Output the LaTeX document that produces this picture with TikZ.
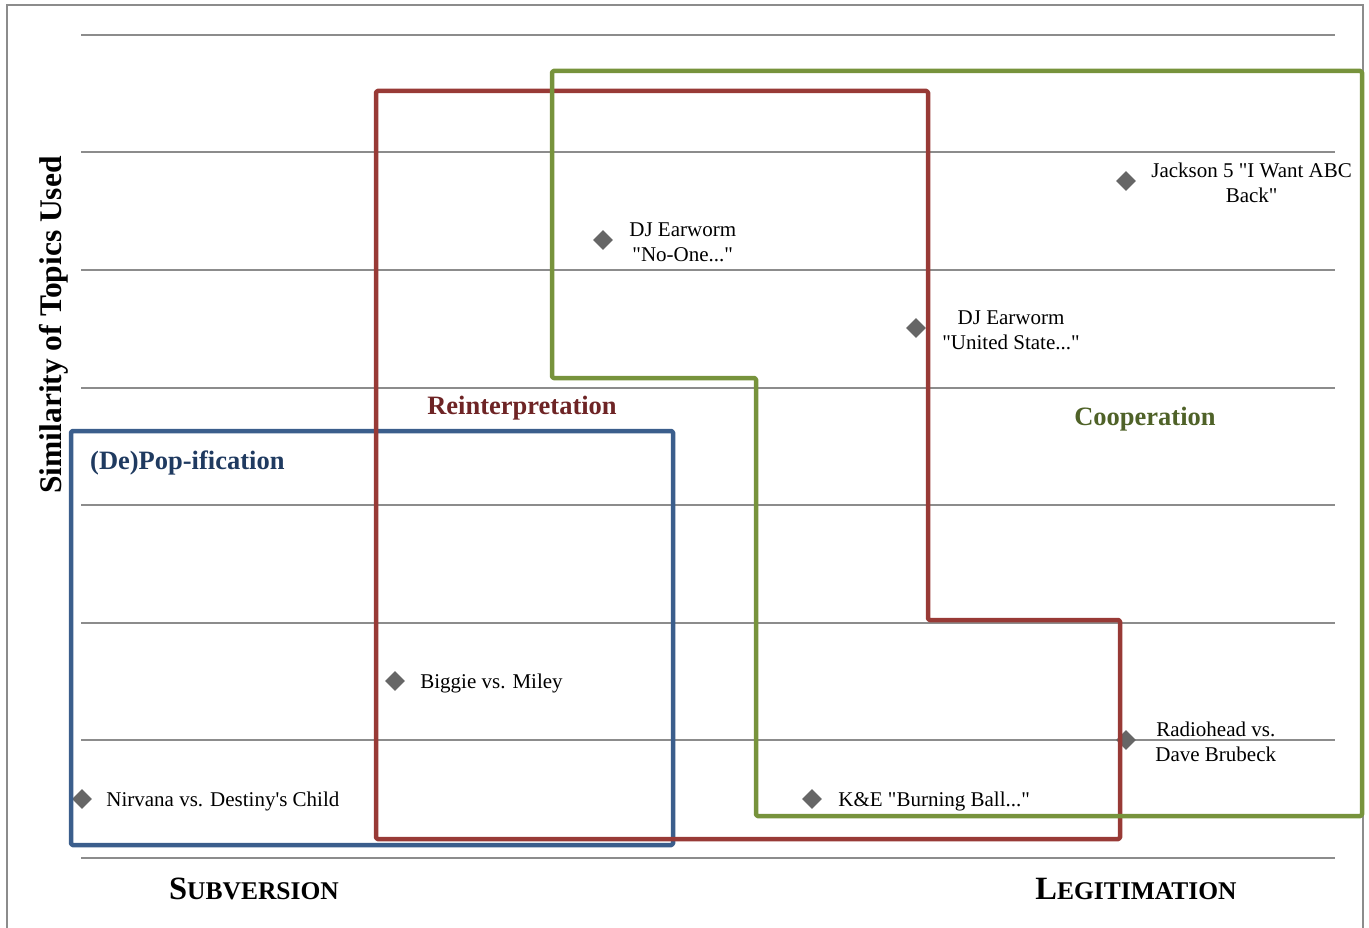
\documentclass[tikz,border=0pt]{standalone}
\usepackage{fontspec}
\setmainfont{Liberation Serif}
\usepackage{tikz}
\usetikzlibrary{positioning,shapes.geometric}

\definecolor{gridgray}{HTML}{8C8C8C}
\definecolor{popblue}{HTML}{3B5E8C}
\definecolor{popbluetext}{HTML}{1F3A60}
\definecolor{reintred}{HTML}{983A36}
\definecolor{reintredtext}{HTML}{6E2425}
\definecolor{coopgreen}{HTML}{77933C}
\definecolor{coopgreentext}{HTML}{4F6228}
\definecolor{markgray}{HTML}{666666}

\newcommand{\fakesc}[2]{#1{\fontsize{25.5}{30}\selectfont #2}}
\newcommand{\dq}{\textquotedbl}

\begin{document}
\begin{tikzpicture}[x=1pt, y=-1pt,
    gridline/.style={gridgray, line width=2pt},
    marker/.style={diamond, fill=markgray, minimum width=20pt, minimum height=20pt, inner sep=0pt},
    song/.style={inner sep=0pt, align=center, yshift=-2pt, font=\fontsize{21}{25}\selectfont},
    zone/.style={line width=4.5pt, line join=round, rounded corners=1.5pt},
    zonelabel/.style={inner sep=0pt, font=\fontsize{26.5}{30}\selectfont\bfseries},
    axislabel/.style={inner sep=0pt, font=\fontsize{32.5}{36}\selectfont\bfseries}]
    \useasboundingbox (0,0) rectangle (1369,928);
    % frame and grid
    \draw[gridgray, line width=2pt] (7,928) -- (7,5) -- (1363,5) -- (1363,928);
    \foreach \y in {35,152.5,270,387.5,505,622.5,740,857.5}
        \draw[gridline] (81,\y) -- (1335,\y);

    % songs
    \node[marker] (nirvana) at (82,799) {};
    \node[marker] (biggie) at (395,681) {};
    \node[marker] (noone) at (603,240) {};
    \node[marker] (united) at (916,328) {};
    \node[marker] (jackson) at (1126,181) {};
    \node[marker] (radiohead) at (1126,740) {};
    \node[marker] (burning) at (812,799) {};

    \node[song, right=14pt of nirvana] (nirvanatext) {Nirvana vs. Destiny\textquotesingle s Child};
    \node[song, right=15pt of biggie] (biggietext) {Biggie vs. Miley};
    \node[song, right=16pt of noone] (noonetext) {DJ Earworm\\\dq No-One...\dq};
    \node[song, right=16pt of united] (unitedtext) {DJ Earworm\\\dq United State...\dq};
    \node[song, right=15pt of jackson] (jacksontext) {Jackson 5 \dq I Want ABC\\Back\dq};
    \node[song, right=19pt of radiohead] (radioheadtext) {Radiohead vs.\\Dave Brubeck};
    \node[song, right=16pt of burning] (burningtext) {K\&E \dq Burning Ball...\dq};

    % zones
    \draw[zone, popblue] (71,431) rectangle (673,845);
    \draw[zone, reintred] (376,91) -- (928,91) -- (928,620) -- (1120,620)
        -- (1120,839) -- (376,839) -- cycle;
    \draw[zone, coopgreen] (552,71) -- (1362,71) -- (1362,816) -- (756,816)
        -- (756,378) -- (552,378) -- cycle;

    \node[zonelabel, popbluetext, anchor=west] (poplabel) at (90,463) {(De)Pop-ification};
    \node[zonelabel, reintredtext] (reintlabel) at (522,408) {Reinterpretation};
    \node[zonelabel, coopgreentext] (cooplabel) at (1145,419) {Cooperation};

    % axes
    \node[axislabel, rotate=90, font=\fontsize{31.5}{36}\selectfont\bfseries] (ylabel) at (54,325) {Similarity of Topics Used};
    \node[axislabel] (subversion) at (254,889) {\fakesc{S}{UBVERSION}};
    \node[axislabel] (legitimation) at (1136,889) {\fakesc{L}{EGITIMATION}};
\end{tikzpicture}
\end{document}
